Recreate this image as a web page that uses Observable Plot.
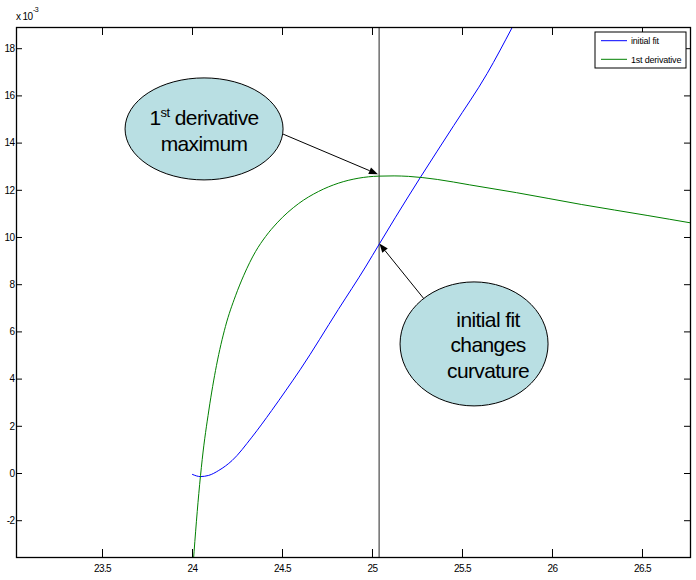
<!DOCTYPE html>
<html>
<head>
<meta charset="utf-8">
<script src="https://cdn.jsdelivr.net/npm/d3@7"></script>
<script src="https://cdn.jsdelivr.net/npm/@observablehq/plot@0.6"></script>
<style>
  html, body { margin: 0; padding: 0; background: #fff; }
  svg { display: block; }
</style>
</head>
<body>
<div id="chart"></div>
<script>
// ---- data (y values in units of 10^-3) ----
const fitX = [24.0, 24.044, 24.09, 24.146, 24.22, 24.33, 24.44, 24.517, 24.6, 24.81, 24.961, 25.039, 25.128, 25.267, 25.452, 25.637, 25.776];
const fitY = [-0.04, -0.13, -0.08, 0.13, 0.55, 1.54, 2.67, 3.5, 4.42, 6.95, 8.75, 9.74, 10.86, 12.56, 14.75, 16.95, 18.9];

const derivX = [24.0, 24.035, 24.054, 24.091, 24.133, 24.183, 24.239, 24.285, 24.35, 24.406, 24.47, 24.59, 24.70, 24.81, 24.92, 25.035, 25.12, 25.2, 25.36, 25.54, 25.8, 26.16, 26.53, 26.767];
const derivY = [-4.2, -0.85, 0.6, 2.69, 4.57, 6.23, 7.53, 8.4, 9.4, 10.04, 10.62, 11.44, 11.95, 12.3, 12.51, 12.6, 12.61, 12.59, 12.46, 12.23, 11.9, 11.4, 10.93, 10.62];

const seriesNames = ["initial fit", "1st derivative"];
const seriesColors = ["#0000ff", "#008000"];
const markerX = 25.037;
const xTicks = [23.5, 24, 24.5, 25, 25.5, 26, 26.5];
const yTicks = [-2, 0, 2, 4, 6, 8, 10, 12, 14, 16, 18];
const yExponent = "-3";
const xDomain = [23.0222, 26.7667];
const yDomain = [-3.559, 18.898];

// callouts (anchor in data units)
const callout1Lines = [["1", "st", " derivative"], ["maximum"]];
const callout2Lines = ["initial fit", "changes", "curvature"];
const callouts = [
  {cx: 24.067, cy: 14.58, arrowFrom: [24.506, 14.36], arrowTo: [25.033, 12.66]},
  {cx: 25.567, cy: 5.47, arrowFrom: [25.294, 7.33], arrowTo: [25.041, 9.72]}
];

const fit = fitX.map((x, i) => ({x, y: fitY[i]}));
const deriv = derivX.map((x, i) => ({x, y: derivY[i]}));

// ---- layout ----
const W = 696, H = 580, mL = 16, mR = 6, mT = 27, mB = 23;
const iW = W - mL - mR, iH = H - mT - mB;
const FONT = "'Liberation Sans', Arial, Helvetica, sans-serif";

const plot = Plot.plot({
  width: W, height: H,
  marginLeft: mL, marginRight: mR, marginTop: mT, marginBottom: mB,
  style: {fontFamily: FONT, fontSize: "10px", color: "#000", background: "#fff", letterSpacing: "-0.6px", overflow: "visible"},
  x: {domain: xDomain, ticks: xTicks, tickSize: 0, tickPadding: 7, label: null, tickFormat: d => String(d)},
  y: {domain: yDomain, ticks: yTicks, tickSize: 0, tickPadding: 2, label: null, tickFormat: d => String(d)},
  marks: [
    Plot.ruleX([markerX], {stroke: "#777", strokeWidth: 1.6}),
    Plot.line(fit, {x: "x", y: "y", stroke: seriesColors[0], strokeWidth: 1, curve: "monotone-x", clip: true}),
    Plot.line(deriv, {x: "x", y: "y", stroke: seriesColors[1], strokeWidth: 1, curve: "monotone-x", clip: true}),
    Plot.ruleX(xTicks, {insetTop: iH - 8, stroke: "#000"}),
    Plot.ruleX(xTicks, {insetBottom: iH - 8, stroke: "#000"}),
    Plot.ruleY(yTicks, {insetRight: iW - 6, stroke: "#000"}),
    Plot.ruleY(yTicks, {insetLeft: iW - 6, stroke: "#000"}),
    Plot.frame({stroke: "#000", strokeWidth: 1.3})
  ]
});

const sx = plot.scale("x"), sy = plot.scale("y");
const NS = "http://www.w3.org/2000/svg";
function el(tag, attrs, parent) {
  const e = document.createElementNS(NS, tag);
  for (const k in attrs) e.setAttribute(k, attrs[k]);
  if (parent) parent.appendChild(e);
  return e;
}
const g = el("g", {"font-family": FONT}, plot);

// exponent label
const expT = el("text", {x: mL, y: 20, "font-size": 10, "text-anchor": "start", "letter-spacing": "-0.6px", fill: "#000"}, g);
expT.appendChild(document.createTextNode("x 10"));
const sup = el("tspan", {"font-size": 7, dy: -8, dx: 0.5}, expT);
sup.textContent = yExponent;

// arrows
function arrow(from, to) {
  const x1 = sx.apply(from[0]), y1 = sy.apply(from[1]);
  const x2 = sx.apply(to[0]), y2 = sy.apply(to[1]);
  const dx = x2 - x1, dy = y2 - y1, L = Math.hypot(dx, dy);
  const ux = dx / L, uy = dy / L, hl = 9, hw = 3.5;
  const bx = x2 - ux * hl, by = y2 - uy * hl;
  el("line", {x1, y1, x2: bx, y2: by, stroke: "#000", "stroke-width": 1}, g);
  el("polygon", {points: `${x2},${y2} ${bx - uy * hw},${by + ux * hw} ${bx + uy * hw},${by - ux * hw}`, fill: "#000"}, g);
}

// callout 1
{
  const c = callouts[0];
  const cx = sx.apply(c.cx), cy = sy.apply(c.cy);
  arrow(c.arrowFrom, c.arrowTo);
  el("ellipse", {cx, cy, rx: 79, ry: 51, fill: "#b9dfe3", stroke: "#000", "stroke-width": 1}, g);
  const t1 = el("text", {x: cx, y: cy - 4, "text-anchor": "middle", "font-size": 21, fill: "#000"}, g);
  const a = el("tspan", {}, t1); a.textContent = callout1Lines[0][0];
  const b = el("tspan", {"font-size": 13, dy: -8}, t1); b.textContent = callout1Lines[0][1];
  const cc = el("tspan", {dy: 8}, t1); cc.textContent = callout1Lines[0][2];
  const t2 = el("text", {x: cx, y: cy + 22, "text-anchor": "middle", "font-size": 21, fill: "#000"}, g);
  t2.textContent = callout1Lines[1][0];
}
// callout 2
{
  const c = callouts[1];
  const cx = sx.apply(c.cx), cy = sy.apply(c.cy);
  arrow(c.arrowFrom, c.arrowTo);
  el("ellipse", {cx, cy, rx: 74, ry: 62, fill: "#b9dfe3", stroke: "#000", "stroke-width": 1}, g);
  callout2Lines.forEach((s, i) => {
    const t = el("text", {x: cx + 14, y: cy - 17 + i * 25.5, "text-anchor": "middle", "font-size": 21, fill: "#000"}, g);
    t.textContent = s;
  });
}

// legend
{
  const right = W - mR - 4, top = mT + 5, bw = 91, bh = 36;
  const lx = right - bw;
  el("rect", {x: lx, y: top, width: bw, height: bh, fill: "#fff", stroke: "#000", "stroke-width": 1}, g);
  seriesNames.forEach((name, i) => {
    const yy = top + 8.7 + i * 18.6;
    el("line", {x1: lx + 6, x2: lx + 32, y1: yy, y2: yy, stroke: seriesColors[i], "stroke-width": 1}, g);
    const t = el("text", {x: lx + 36, y: yy + 3.5, "font-size": 9, "text-anchor": "start", "letter-spacing": "-0.2px", fill: "#000"}, g);
    t.textContent = name;
  });
}

document.getElementById("chart").appendChild(plot);
</script>
</body>
</html>
